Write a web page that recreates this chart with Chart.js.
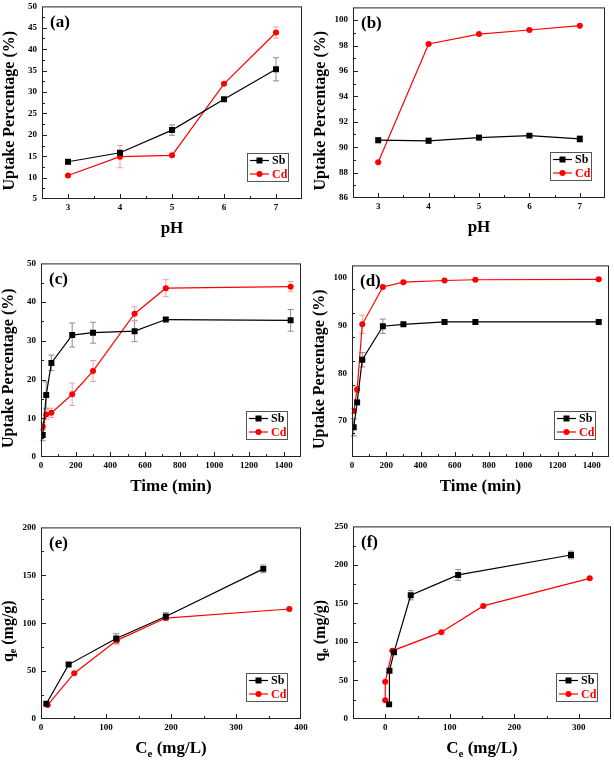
<!DOCTYPE html>
<html>
<head>
<meta charset="utf-8">
<script src="https://cdn.jsdelivr.net/npm/chart.js@4.4.0/dist/chart.umd.min.js"></script>
<style>
  body { margin: 0; background: #fff; }
  #page { position: relative; width: 614px; height: 762px; overflow: hidden; background: #fff; }
  canvas { position: absolute; }
</style>
</head>
<body>
<div id="page"></div>
<script>
// (a) uptake vs pH
const phLevels = [3, 4, 5, 6, 7];
const phSbUptakeA = [13.7, 15.8, 21.1, 28.3, 35.3];
const phSbErrA = [0.5, 0.4, 1.2, 0.3, 2.7];
const phCdUptakeA = [10.5, 14.9, 15.2, 31.9, 43.9];
const phCdErrA = [0.3, 2.6, 0.4, 0.3, 1.3];

// (b) uptake vs pH
const phSbUptakeB = [90.55, 90.5, 90.75, 90.91, 90.65];
const phSbErrB = [0.2, 0.2, 0.2, 0.1, 0.25];
const phCdUptakeB = [88.82, 98.12, 98.9, 99.22, 99.56];
const phCdErrB = [0.05, 0.05, 0.05, 0.05, 0.05];

// (c) and (d) uptake vs time
const times = [10, 30, 60, 180, 300, 540, 720, 1440];
const timeSbUptakeC = [5.7, 16.0, 24.3, 31.5, 32.1, 32.5, 35.5, 35.3];
const timeSbErrC = [1.5, 3.4, 2.0, 3.1, 2.7, 2.7, 0.3, 2.8];
const timeCdUptakeC = [7.9, 11.0, 11.4, 16.2, 22.2, 37.0, 43.6, 44.0];
const timeCdErrC = [1.0, 1.3, 1.2, 2.9, 2.7, 1.8, 2.2, 1.3];
const timeSbUptakeD = [68.7, 73.9, 82.8, 89.8, 90.2, 90.7, 90.7, 90.7];
const timeSbErrD = [1.8, 0.5, 1.5, 1.5, 0.3, 0.2, 0.2, 0.2];
const timeCdUptakeD = [72.1, 76.6, 90.2, 98.0, 99.0, 99.35, 99.5, 99.6];
const timeCdErrD = [0.5, 0.6, 1.9, 0.3, 0.2, 0.1, 0.1, 0.1];

// (e) isotherm
const ceSbE = [8.2, 42.5, 115.7, 192, 342];
const qeSbE = [15.9, 56.8, 84.0, 107.0, 156.7];
const qeSbErrE = [1, 1, 5, 4, 4];
const ceCdE = [10.2, 51.2, 116.8, 192, 382];
const qeCdE = [14.6, 47.8, 82.1, 105.4, 114.8];
const qeCdErrE = [0.5, 0.5, 4, 2, 0.5];

// (f) isotherm
const ceSbF = [6, 6.5, 13.5, 39.5, 113, 288];
const qeSbF = [19.0, 62.6, 86.5, 160.6, 187.0, 212.9];
const qeSbErrF = [1, 2, 2, 6, 7, 5];
const ceCdF = [0, 0, 11, 87, 152, 317];
const qeCdF = [24.5, 48.5, 88.5, 112.7, 146.8, 182.6];
const qeCdErrF = [0.5, 0.5, 1, 1, 1, 1];

const SERIF = '"Liberation Serif", "Times New Roman", serif';
const SB_COLOR = '#000000';
const CD_COLOR = '#ff0000';
const SB_ERR = '#8c8c8c';
const CD_ERR = '#f5a0a0';

const UPTAKE = [{ t: 'Uptake Percentage (%)' }];
const QE = [{ t: 'q' }, { t: 'e', sub: true }, { t: ' (mg/g)' }];
const CE = [{ t: 'C' }, { t: 'e', sub: true }, { t: ' (mg/L)' }];

const panels = [
    { tag: '(a)', box: [42, 6, 302, 199],
      x: { min: 2.5, max: 7.5, ticks: [3, 4, 5, 6, 7], minor: 0.5 },
      y: { min: 5, max: 50, ticks: [5, 10, 15, 20, 25, 30, 35, 40, 45, 50], minor: 2.5 },
      xTitle: [{ t: 'pH' }], yTitle: UPTAKE,
      sb: [phLevels, phSbUptakeA, phSbErrA], cd: [phLevels, phCdUptakeA, phCdErrA] },
    { tag: '(b)', box: [353, 7, 605, 198],
      x: { min: 2.5, max: 7.5, ticks: [3, 4, 5, 6, 7], minor: 0.5 },
      y: { min: 86, max: 101, ticks: [86, 88, 90, 92, 94, 96, 98, 100], minor: 1 },
      xTitle: [{ t: 'pH' }], yTitle: UPTAKE,
      sb: [phLevels, phSbUptakeB, phSbErrB], cd: [phLevels, phCdUptakeB, phCdErrB] },
    { tag: '(c)', box: [41, 263, 301, 457],
      x: { min: 0, max: 1500, ticks: [0, 200, 400, 600, 800, 1000, 1200, 1400], minor: 100 },
      y: { min: 0, max: 50, ticks: [0, 10, 20, 30, 40, 50], minor: 5 },
      xTitle: [{ t: 'Time (min)' }], yTitle: UPTAKE,
      sb: [times, timeSbUptakeC, timeSbErrC], cd: [times, timeCdUptakeC, timeCdErrC] },
    { tag: '(d)', box: [352, 265, 609, 457],
      x: { min: 0, max: 1500, ticks: [0, 200, 400, 600, 800, 1000, 1200, 1400], minor: 100 },
      y: { min: 62.5, max: 102.5, ticks: [70, 80, 90, 100], minor: 5 },
      xTitle: [{ t: 'Time (min)' }], yTitle: UPTAKE,
      sb: [times, timeSbUptakeD, timeSbErrD], cd: [times, timeCdUptakeD, timeCdErrD] },
    { tag: '(e)', box: [41, 527, 301, 719],
      x: { min: 0, max: 400, ticks: [0, 100, 200, 300, 400], minor: 50 },
      y: { min: 0, max: 200, ticks: [0, 50, 100, 150, 200], minor: 25 },
      xTitle: CE, yTitle: QE,
      sb: [ceSbE, qeSbE, qeSbErrE], cd: [ceCdE, qeCdE, qeCdErrE] },
    { tag: '(f)', box: [353, 526, 611, 719],
      x: { min: -50, max: 350, ticks: [0, 100, 200, 300], minor: 50 },
      y: { min: 0, max: 250, ticks: [0, 50, 100, 150, 200, 250], minor: 25 },
      xTitle: CE, yTitle: QE,
      sb: [ceSbF, qeSbF, qeSbErrF], cd: [ceCdF, qeCdF, qeCdErrF] }
];

function drawRich(ctx, parts, x, y, size) {
    const big = 'bold ' + size + 'px ' + SERIF;
    const small = 'bold ' + Math.round(size * 0.65) + 'px ' + SERIF;
    let total = 0;
    parts.forEach(p => { ctx.font = p.sub ? small : big; total += ctx.measureText(p.t).width; });
    let cx = x - total / 2;
    ctx.textAlign = 'left';
    ctx.textBaseline = 'middle';
    parts.forEach(p => {
        ctx.font = p.sub ? small : big;
        ctx.fillText(p.t, cx, p.sub ? y + size * 0.3 : y);
        cx += ctx.measureText(p.t).width;
    });
}

const errorBars = {
    id: 'errorBars',
    beforeDatasetsDraw(chart) {
        const ctx = chart.ctx;
        const xs = chart.scales.x, ys = chart.scales.y;
        ctx.save();
        ctx.lineWidth = 1;
        chart.data.datasets.forEach(ds => {
            ctx.strokeStyle = ds.errColor;
            ds.data.forEach((p, i) => {
                const e = ds.errors[i];
                const px = xs.getPixelForValue(p.x);
                const top = ys.getPixelForValue(p.y + e);
                const bot = ys.getPixelForValue(p.y - e);
                ctx.beginPath();
                ctx.moveTo(px, top); ctx.lineTo(px, bot);
                ctx.moveTo(px - 3, top); ctx.lineTo(px + 3, top);
                ctx.moveTo(px - 3, bot); ctx.lineTo(px + 3, bot);
                ctx.stroke();
            });
        });
        ctx.restore();
    }
};

const frame = {
    id: 'frame',
    afterDraw(chart, args, opts) {
        const ctx = chart.ctx;
        const a = chart.chartArea;
        const xs = chart.scales.x, ys = chart.scales.y;
        const p = opts.panel;
        ctx.save();
        ctx.strokeStyle = '#222';
        ctx.lineWidth = 1;
        ctx.strokeRect(a.left + 0.5, a.top + 0.5, a.right - a.left - 1, a.bottom - a.top - 1);

        // inward ticks, major and minor
        ctx.beginPath();
        for (let v = p.x.min; v <= p.x.max + 1e-9; v += p.x.minor) {
            if (v <= p.x.min || v >= p.x.max) continue;
            const major = p.x.ticks.some(t => Math.abs(t - v) < 1e-6);
            const px = Math.round(xs.getPixelForValue(v)) + 0.5;
            ctx.moveTo(px, a.bottom); ctx.lineTo(px, a.bottom - (major ? 5 : 3));
        }
        for (let v = p.y.min; v <= p.y.max + 1e-9; v += p.y.minor) {
            if (v <= p.y.min || v >= p.y.max) continue;
            const major = p.y.ticks.some(t => Math.abs(t - v) < 1e-6);
            const py = Math.round(ys.getPixelForValue(v)) + 0.5;
            ctx.moveTo(a.left, py); ctx.lineTo(a.left + (major ? 5 : 3), py);
        }
        ctx.stroke();

        // panel tag
        ctx.fillStyle = '#000';
        ctx.font = 'bold 17px ' + SERIF;
        ctx.textAlign = 'left';
        ctx.textBaseline = 'middle';
        ctx.fillText(p.tag, a.left + 8, a.top + 16);

        // axis titles
        drawRich(ctx, p.xTitle, (a.left + a.right) / 2, a.bottom + 30, 17);
        ctx.save();
        ctx.translate(a.left - 32, (a.top + a.bottom) / 2 + 8);
        ctx.rotate(-Math.PI / 2);
        drawRich(ctx, p.yTitle, 0, 0, 16);
        ctx.restore();

        // legend
        const bw = 41, bh = 28;
        const bx = a.right - 14 - bw, by = a.bottom - 18 - bh;
        ctx.fillStyle = '#fff';
        ctx.fillRect(bx, by, bw, bh);
        ctx.strokeStyle = '#555';
        ctx.strokeRect(bx + 0.5, by + 0.5, bw, bh);
        ctx.font = 'bold 12px ' + SERIF;
        [[SB_COLOR, 'Sb', 'rect', 7.5], [CD_COLOR, 'Cd', 'circle', 21]].forEach(r => {
            const ry = by + r[3];
            ctx.strokeStyle = r[0];
            ctx.fillStyle = r[0];
            ctx.lineWidth = 1.2;
            ctx.beginPath();
            ctx.moveTo(bx + 3, ry); ctx.lineTo(bx + 22, ry);
            ctx.stroke();
            if (r[2] === 'rect') {
                ctx.fillRect(bx + 9.5, ry - 3, 6, 6);
            } else {
                ctx.beginPath();
                ctx.arc(bx + 12.5, ry, 3, 0, Math.PI * 2);
                ctx.fill();
            }
            ctx.fillText(r[1], bx + 25, ry + 0.5);
        });
        ctx.restore();
    }
};

function makeDataset(label, src, color, errColor, style, radius) {
    return {
        label: label,
        data: src[0].map((x, i) => ({ x: x, y: src[1][i] })),
        errors: src[2],
        errColor: errColor,
        borderColor: color,
        backgroundColor: color,
        borderWidth: 1.2,
        pointStyle: style,
        pointRadius: radius,
        pointBorderWidth: 0,
        tension: 0
    };
}

function axisOptions(spec, isX) {
    return {
        type: 'linear',
        min: spec.min,
        max: spec.max,
        grid: { display: false, drawTicks: false },
        border: { display: false },
        afterBuildTicks: scale => { scale.ticks = spec.ticks.map(v => ({ value: v })); },
        afterFit: scale => { if (isX) scale.height = 45; else scale.width = 45; },
        ticks: {
            autoSkip: false,
            maxRotation: 0,
            padding: isX ? 3 : 5,
            color: '#000',
            font: { family: SERIF, size: 9, weight: 'bold' },
            callback: v => String(v)
        }
    };
}

const page = document.getElementById('page');
panels.forEach(p => {
    const [l, t, r, b] = p.box;
    const canvas = document.createElement('canvas');
    canvas.width = (r - l) + 60;
    canvas.height = (b - t) + 55;
    canvas.style.left = (l - 45) + 'px';
    canvas.style.top = (t - 10) + 'px';
    page.appendChild(canvas);

    new Chart(canvas.getContext('2d'), {
        type: 'line',
        data: {
            datasets: [
                makeDataset('Sb', p.sb, SB_COLOR, SB_ERR, 'rect', 4.2),
                makeDataset('Cd', p.cd, CD_COLOR, CD_ERR, 'circle', 3)
            ]
        },
        options: {
            responsive: false,
            animation: false,
            devicePixelRatio: 1,
            layout: { padding: { left: 0, top: 10, right: 15, bottom: 0 } },
            plugins: {
                legend: { display: false },
                tooltip: { enabled: false },
                frame: { panel: p }
            },
            scales: {
                x: axisOptions(p.x, true),
                y: axisOptions(p.y, false)
            }
        },
        plugins: [errorBars, frame]
    });
});
</script>
</body>
</html>
